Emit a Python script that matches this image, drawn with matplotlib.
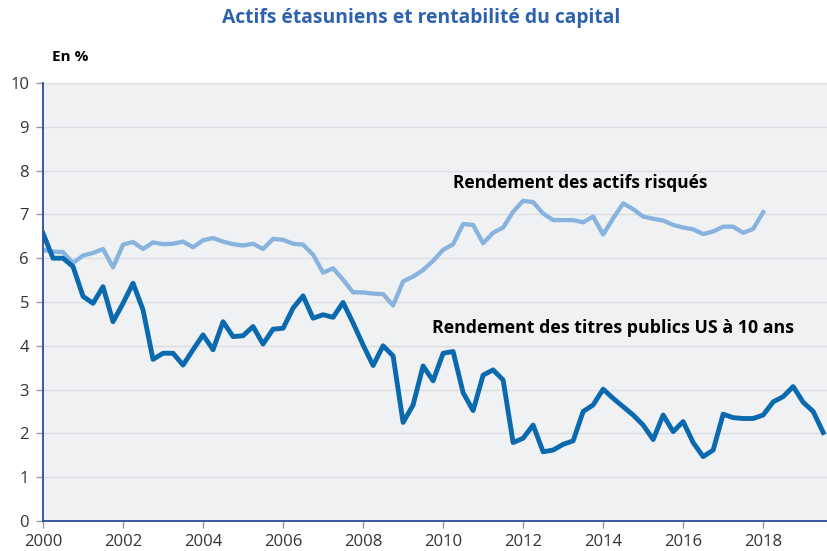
"""
Actifs étasuniens et rentabilité du capital
Deux séries trimestrielles 2000-2019 (en %).
"""

import numpy as np
import matplotlib
matplotlib.use("Agg")
import matplotlib.pyplot as plt

# ─────────────────────────────────────────────
# DONNÉES (trimestrielles)
# ─────────────────────────────────────────────
START_YEAR = 2000

# Rendement des titres publics US à 10 ans : 2000T1 → 2019T3
taux_10_ans = [
    6.57, 6.00, 6.00, 5.81, 5.13, 4.97, 5.35, 4.55, 4.97, 5.43,
    4.82, 3.69, 3.83, 3.83, 3.56, 3.91, 4.25, 3.91, 4.55, 4.21,
    4.23, 4.44, 4.04, 4.38, 4.40, 4.86, 5.14, 4.63, 4.71, 4.65,
    4.99, 4.52, 4.02, 3.55, 4.00, 3.77, 2.25, 2.65, 3.54, 3.20,
    3.83, 3.87, 2.93, 2.52, 3.33, 3.45, 3.22, 1.79, 1.89, 2.19,
    1.58, 1.62, 1.75, 1.83, 2.50, 2.65, 3.01, 2.80, 2.61, 2.42,
    2.19, 1.86, 2.42, 2.04, 2.27, 1.79, 1.47, 1.62, 2.44, 2.36,
    2.34, 2.34, 2.42, 2.72, 2.84, 3.07, 2.71, 2.50, 2.02,
]

# Rendement des actifs risqués : 2000T1 → 2018T1
actifs_risques = [
    6.19, 6.15, 6.14, 5.89, 6.06, 6.12, 6.21, 5.79, 6.31, 6.37,
    6.21, 6.36, 6.32, 6.33, 6.38, 6.25, 6.41, 6.46, 6.38, 6.32,
    6.29, 6.33, 6.21, 6.44, 6.42, 6.33, 6.31, 6.08, 5.67, 5.77,
    5.51, 5.22, 5.22, 5.19, 5.18, 4.92, 5.47, 5.58, 5.73, 5.94,
    6.19, 6.32, 6.78, 6.76, 6.34, 6.58, 6.70, 7.06, 7.31, 7.28,
    7.02, 6.87, 6.87, 6.87, 6.82, 6.95, 6.54, 6.91, 7.25, 7.12,
    6.95, 6.90, 6.86, 6.76, 6.70, 6.66, 6.55, 6.61, 6.72, 6.72,
    6.58, 6.67, 7.05,
]

x_ticks = list(range(2000, 2019, 2))
y_ticks = list(range(0, 11))

# ─────────────────────────────────────────────
# COULEURS / STYLE
# ─────────────────────────────────────────────
BLEU_FONCE = "#0a6aad"
BLEU_CLAIR = "#88b3df"
BLEU_TITRE = "#2f62ae"
BLEU_AXE = "#2b4c9b"
FOND = "#f0f1f3"
GRILLE = "#dcdde0"
TEXTE = "#333333"

plt.rcParams["font.family"] = ["Open Sans", "DejaVu Sans"]

x_10 = START_YEAR + np.arange(len(taux_10_ans)) / 4
x_risk = START_YEAR + np.arange(len(actifs_risques)) / 4

fig = plt.figure(figsize=(8.28, 5.51), dpi=100)
ax = fig.add_axes([43 / 828, 30 / 551, 785 / 828, 438 / 551])
ax.set_facecolor(FOND)

ax.plot(x_risk, actifs_risques, color=BLEU_CLAIR, lw=3.1,
        solid_joinstyle="round", zorder=3)
ax.plot(x_10, taux_10_ans, color=BLEU_FONCE, lw=3.5,
        solid_joinstyle="round", zorder=4)

ax.set_xlim(2000, 2019.62)
ax.set_ylim(0, 10)
ax.set_xticks(x_ticks)
ax.set_yticks(y_ticks)
ax.grid(axis="y", color=GRILLE, lw=1.0, zorder=1)
ax.set_axisbelow(True)

for side in ("top", "right"):
    ax.spines[side].set_visible(False)
for side in ("left", "bottom"):
    ax.spines[side].set_color(BLEU_AXE)
    ax.spines[side].set_linewidth(1.3)
    ax.spines[side].set_zorder(5)

ax.tick_params(axis="both", colors="#999999", length=5, width=1,
               labelcolor=TEXTE, labelsize=12)
ax.tick_params(axis="x", pad=4)
ax.tick_params(axis="y", pad=5)

# Étiquettes des séries
ax.text(2010.25, 7.72, "Rendement des actifs risqués", fontsize=12.5,
        fontweight="bold", color="black", va="center", ha="left")
ax.text(2009.73, 4.41, "Rendement des titres publics US à 10 ans",
        fontsize=12.8, fontweight="bold", color="black", va="center",
        ha="left")

# Titre et unité
fig.text(0.509, 1 - 18 / 551, "Actifs étasuniens et rentabilité du capital",
         fontsize=13.9, fontweight="bold", color=BLEU_TITRE,
         ha="center", va="center")
fig.text(52 / 828, 1 - 57 / 551, "En %", fontsize=11, fontweight="bold",
         color="black", ha="left", va="center")

fig.savefig("out.png", dpi=100, facecolor="white")
